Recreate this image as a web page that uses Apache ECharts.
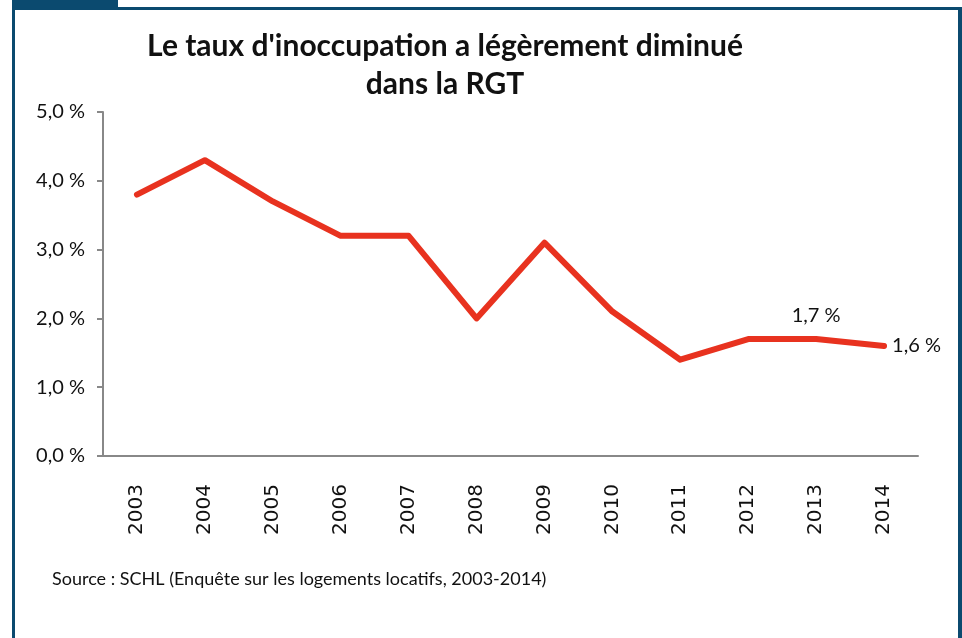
<!DOCTYPE html>
<html>
<head>
    <meta charset="UTF-8">
    <title>Taux d'inoccupation RGT</title>
    <script src="https://cdn.jsdelivr.net/npm/echarts@6/dist/echarts.min.js"></script>
    <style>
        html, body { margin: 0; padding: 0; background: #fff; }
        #chart { width: 962px; height: 638px; }
    </style>
</head>
<body>
<div id="chart"></div>
<script>
    var years = ['2003','2004','2005','2006','2007','2008','2009','2010','2011','2012','2013','2014'];
    var rates = [3.8, 4.3, 3.7, 3.2, 3.2, 2.0, 3.1, 2.1, 1.4, 1.7, 1.7, 1.6];
    var labelled = {'2013': 'top', '2014': 'right'};

    var frame = '#0b4a6f';
    var red = '#e8321f';
    var chart = echarts.init(document.getElementById('chart'));

    function pct(v) { return v.toFixed(1).replace('.', ',') + ' %'; }

    var points = rates.map(function (v, i) {
        var pos = labelled[years[i]];
        if (!pos) return v;
        return {
            value: v,
            label: {
                show: true,
                position: pos,
                distance: pos === 'top' ? 12 : 7,
                formatter: function (p) { return pct(p.value); }
            }
        };
    });

    chart.setOption({
        backgroundColor: '#fff',
        title: {
            text: "Le taux d'inoccupation a légèrement diminué\ndans la RGT",
            left: 440,
            top: 22,
            textAlign: 'center',
            textStyle: {
                fontFamily: 'Lato',
                fontWeight: 'bold',
                fontSize: 30,
                lineHeight: 38,
                color: '#111'
            }
        },
        graphic: [
            {type: 'rect', shape: {x: 12, y: 0, width: 106, height: 8}, style: {fill: frame}},
            {type: 'rect', shape: {x: 12, y: 7, width: 950, height: 3}, style: {fill: frame}},
            {type: 'rect', shape: {x: 12, y: 7, width: 3, height: 631}, style: {fill: frame}},
            {type: 'rect', shape: {x: 958, y: 7, width: 4, height: 631}, style: {fill: frame}},
            {
                type: 'text', left: 52, top: 570,
                style: {
                    text: 'Source : SCHL (Enquête sur les logements locatifs, 2003-2014)',
                    fontFamily: 'Lato', fontSize: 18, fill: '#111'
                }
            }
        ],
        grid: {left: 103, right: 44, top: 112, bottom: 182},
        xAxis: {
            type: 'category',
            data: years,
            boundaryGap: true,
            axisLine: {lineStyle: {color: '#888', width: 2}},
            axisTick: {show: false},
            axisLabel: {
                rotate: 90,
                margin: 28,
                fontFamily: 'DejaVu Sans',
                fontSize: 20,
                color: '#111'
            }
        },
        yAxis: {
            type: 'value',
            min: 0,
            max: 5,
            interval: 1,
            splitLine: {show: false},
            axisLine: {show: true, lineStyle: {color: '#888', width: 2}},
            axisTick: {show: true, length: 6, lineStyle: {color: '#888', width: 2}},
            axisLabel: {
                margin: 18,
                fontFamily: 'Lato',
                fontSize: 20,
                color: '#111',
                formatter: pct
            }
        },
        series: [{
            type: 'line',
            data: points,
            symbol: 'circle',
            symbolSize: 2,
            itemStyle: {color: red},
            lineStyle: {color: red, width: 6, cap: 'round', join: 'round'},
            label: {fontFamily: 'Lato', fontSize: 20, color: '#111'},
            animation: false
        }]
    });
</script>
</body>
</html>
